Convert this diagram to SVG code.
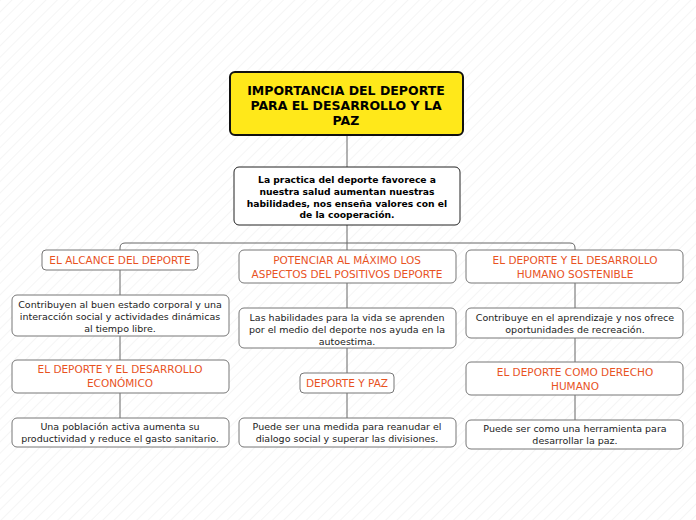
<svg xmlns="http://www.w3.org/2000/svg" width="696" height="520" viewBox="0 0 696 520">
<defs>
<pattern id="bg" width="8" height="8" patternUnits="userSpaceOnUse" patternTransform="rotate(-45)"><rect width="8" height="8" fill="#fff"/><line x1="0" y1="0" x2="8" y2="0" stroke="#ececec" stroke-width="1"/></pattern>
<style>
.n{fill:#fff;stroke:#777;stroke-width:1}
.t{font-family:"DejaVu Sans",Verdana,sans-serif;font-size:9.5px;fill:#222;text-anchor:middle}
.b{font-weight:bold;fill:#000}
.h{font-family:"DejaVu Sans",Verdana,sans-serif;font-size:10.5px;fill:#E8531F;text-anchor:middle}
.c{fill:none;stroke:#666;stroke-width:1}
</style>
</defs>
<rect width="696" height="520" fill="url(#bg)"/>
<g id="connectors">
<path class="c" d="M347 135V167M347 225V250M120 250V248Q120 243 125 243H570Q575 243 575 248V250"/>
<path class="c" d="M120 270V295M120 336V360M120 393V418M347 283V308M347 348V373M347 393V418M575 283V308M575 338V362M575 395V420"/>
</g>
<g id="title"><rect x="230" y="72" width="233" height="63" rx="5" fill="#FFE81A" stroke="#111" stroke-width="2"/>
<text class="t b" style="font-size:12.5px"><tspan x="346" y="95">IMPORTANCIA DEL DEPORTE</tspan><tspan x="346" y="110">PARA EL DESARROLLO Y LA</tspan><tspan x="346" y="125">PAZ</tspan></text></g>
<g id="intro"><rect x="234" y="167" width="226" height="58" rx="5" fill="#fff" stroke="#222"/>
<text class="t b" style="font-size:9.2px"><tspan x="347" y="183">La practica del deporte favorece a</tspan><tspan x="347" y="195">nuestra salud aumentan nuestras</tspan><tspan x="347" y="207">habilidades, nos enseña valores con el</tspan><tspan x="347" y="218">de la cooperación.</tspan></text></g>
<g id="h1"><rect class="n" x="42" y="250" width="156" height="20" rx="4"/><text class="h" x="120" y="264">EL ALCANCE DEL DEPORTE</text></g>
<g id="n1"><rect class="n" x="12" y="295" width="217" height="41" rx="5"/><text class="t"><tspan x="120" y="308">Contribuyen al buen estado corporal y una</tspan><tspan x="120" y="320">interacción social y actividades dinámicas</tspan><tspan x="120" y="332">al tiempo libre.</tspan></text></g>
<g id="h2"><rect class="n" x="12" y="360" width="217" height="33" rx="5"/><text class="h"><tspan x="120" y="373">EL DEPORTE Y EL DESARROLLO</tspan><tspan x="120" y="387">ECONÓMICO</tspan></text></g>
<g id="n2"><rect class="n" x="12" y="418" width="217" height="29" rx="5"/><text class="t"><tspan x="120" y="430">Una población activa aumenta su</tspan><tspan x="120" y="442">productividad y reduce el gasto sanitario.</tspan></text></g>
<g id="h3"><rect class="n" x="239" y="250" width="217" height="33" rx="5"/><text class="h"><tspan x="347" y="264">POTENCIAR AL MÁXIMO LOS</tspan><tspan x="347" y="278">ASPECTOS DEL POSITIVOS DEPORTE</tspan></text></g>
<g id="n3"><rect class="n" x="239" y="308" width="217" height="40" rx="5"/><text class="t"><tspan x="347" y="321">Las habilidades para la vida se aprenden</tspan><tspan x="347" y="333">por el medio del deporte nos ayuda en la</tspan><tspan x="347" y="345">autoestima.</tspan></text></g>
<g id="h4"><rect class="n" x="300" y="373" width="94" height="20" rx="4"/><text class="h" x="347" y="387">DEPORTE Y PAZ</text></g>
<g id="n4"><rect class="n" x="239" y="418" width="217" height="29" rx="5"/><text class="t"><tspan x="347" y="430">Puede ser una medida para reanudar el</tspan><tspan x="347" y="442">dialogo social y superar las divisiones.</tspan></text></g>
<g id="h5"><rect class="n" x="466" y="250" width="217" height="33" rx="5"/><text class="h"><tspan x="575" y="264">EL DEPORTE Y EL DESARROLLO</tspan><tspan x="575" y="278">HUMANO SOSTENIBLE</tspan></text></g>
<g id="n5"><rect class="n" x="466" y="308" width="217" height="30" rx="5"/><text class="t"><tspan x="575" y="321">Contribuye en el aprendizaje y nos ofrece</tspan><tspan x="575" y="333">oportunidades de recreación.</tspan></text></g>
<g id="h6"><rect class="n" x="466" y="362" width="217" height="33" rx="5"/><text class="h"><tspan x="575" y="376">EL DEPORTE COMO DERECHO</tspan><tspan x="575" y="390">HUMANO</tspan></text></g>
<g id="n6"><rect class="n" x="466" y="420" width="217" height="29" rx="5"/><text class="t"><tspan x="575" y="432">Puede ser como una herramienta para</tspan><tspan x="575" y="444">desarrollar la paz.</tspan></text></g>
</svg>
